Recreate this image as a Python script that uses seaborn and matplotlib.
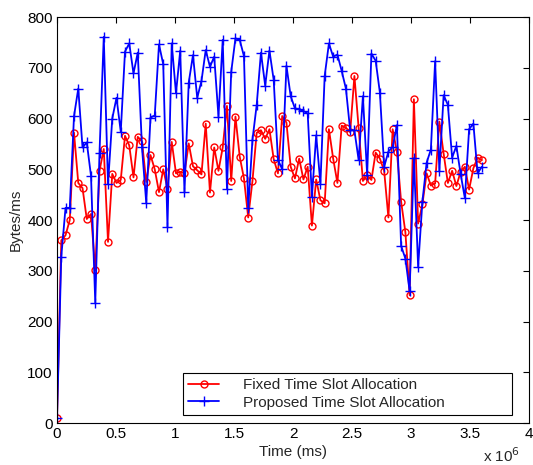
import numpy as np
import pandas as pd
import matplotlib
matplotlib.use("Agg")
import matplotlib.pyplot as plt
from matplotlib.ticker import FuncFormatter
import seaborn as sns

# sampling grid: one point every 36000 ms, 0 .. 3.6e6
time_ms = np.arange(101) * 36000

fixed = [10, 360, 370, 400, 572, 473, 463, 402, 412, 301,
         497, 540, 357, 491, 473, 479, 566, 547, 484, 564,
         555, 475, 528, 500, 455, 500, 462, 554, 492, 495,
         492, 551, 506, 498, 490, 590, 454, 543, 497, 543,
         625, 477, 604, 525, 482, 405, 477, 572, 577, 560,
         579, 520, 492, 605, 592, 505, 482, 521, 480, 505,
         389, 480, 439, 433, 579, 521, 473, 586, 582, 573,
         684, 581, 477, 488, 479, 533, 521, 497, 405, 579,
         535, 436, 376, 252, 638, 393, 431, 492, 468, 472,
         594, 531, 473, 497, 467, 495, 505, 460, 502, 523,
         518]

proposed = [10, 328, 424, 424, 605, 659, 543, 553, 487, 237,
            533, 761, 471, 600, 641, 574, 732, 748, 689, 730,
            543, 434, 602, 606, 746, 707, 386, 748, 650, 734,
            455, 671, 725, 641, 674, 735, 702, 722, 604, 755,
            462, 692, 758, 755, 723, 423, 558, 627, 730, 665,
            734, 676, 519, 500, 704, 644, 620, 618, 615, 610,
            446, 567, 472, 684, 748, 722, 726, 694, 659, 577,
            577, 518, 644, 489, 728, 714, 651, 505, 535, 544,
            587, 349, 324, 260, 522, 308, 436, 513, 539, 713,
            497, 646, 627, 523, 546, 491, 443, 579, 590, 492,
            505]

labels = ["Fixed Time Slot Allocation", "Proposed Time Slot Allocation"]

df = pd.DataFrame({"time": time_ms, "fixed": fixed, "proposed": proposed})

sns.set_style("white")
plt.rcParams['font.family'] = ['Liberation Sans', 'DejaVu Sans']
plt.rcParams['font.size'] = 11

fig = plt.figure(figsize=(5.33, 4.65), dpi=100)
ax = fig.add_axes([0.107, 0.0903, 0.8856, 0.873])

sns.lineplot(data=df, x="time", y="fixed", ax=ax, color="red", lw=1.3,
             marker="o", markersize=5, markerfacecolor="none",
             markeredgecolor="red", markeredgewidth=1.0, label=labels[0])
sns.lineplot(data=df, x="time", y="proposed", ax=ax, color="blue", lw=1.3,
             marker="+", markersize=7, markeredgecolor="blue",
             markeredgewidth=1.0, label=labels[1])

ax.set_xlim(0, 4e6)
ax.set_ylim(0, 800)
ax.set_xticks(np.arange(0, 4.01e6, 0.5e6))
ax.set_yticks(np.arange(0, 801, 100))
ax.xaxis.set_major_formatter(FuncFormatter(lambda v, p: f"{v / 1e6:g}"))
ax.tick_params(direction="in", length=4, width=0.8, top=True, right=True,
               labelsize=11, colors="black", pad=3)
for s in ax.spines.values():
    s.set_visible(True)
    s.set_color("black")
    s.set_linewidth(0.8)

ax.set_xlabel("Time (ms)", fontsize=11, labelpad=3)
ax.set_ylabel("Bytes/ms", fontsize=11, labelpad=3)
ax.text(0.98, -0.096, r"x 10$^{6}$", transform=ax.transAxes, ha="right",
        va="baseline", fontsize=11)

# wide MATLAB-style legend box, entries left aligned
leg = ax.legend(loc="lower left", bbox_to_anchor=(0.267, 0.02, 0.697, 0.108),
                mode="expand", frameon=True, fancybox=False, edgecolor="black",
                handlelength=2.0, handletextpad=1.6, borderpad=0.35,
                labelspacing=0.2, borderaxespad=0, fontsize=11)
leg.get_frame().set_linewidth(0.8)
leg.get_frame().set_facecolor("white")
leg.get_frame().set_alpha(1)

fig.savefig("out.png", dpi=100, facecolor="white")
